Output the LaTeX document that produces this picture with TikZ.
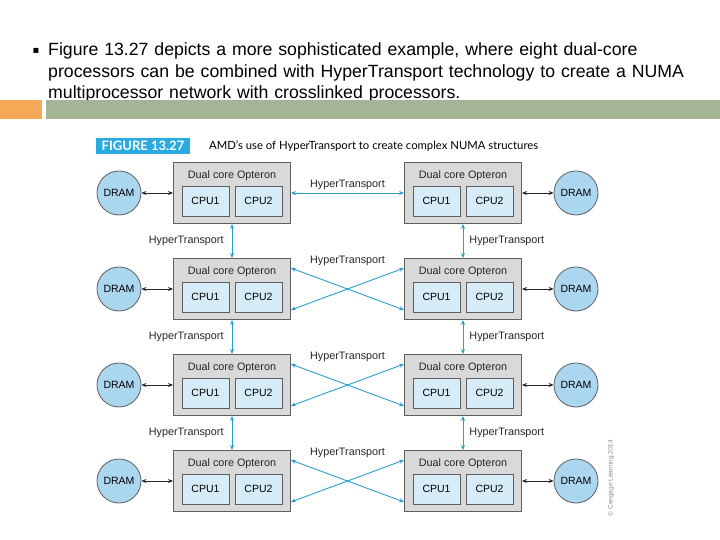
\documentclass[tikz,border=0pt]{standalone}
\usepackage{fontspec}
\setmainfont{Liberation Sans}
\newfontfamily\capfont{Lato}
\newfontfamily\symfont{DejaVu Sans}
\usetikzlibrary{arrows.meta, positioning, calc}
\definecolor{barorange}{RGB}{245,168,86}
\definecolor{bargreen}{RGB}{164,180,148}
\definecolor{figblue}{RGB}{41,170,225}
\definecolor{htblue}{RGB}{40,160,205}
\definecolor{boxgray}{RGB}{217,217,217}
\definecolor{edgegray}{RGB}{95,95,95}
\definecolor{cpublue}{RGB}{214,236,248}
\definecolor{dramblue}{RGB}{170,214,240}

\begin{document}
\begin{tikzpicture}[x=1pt, y=-1pt,
  chip/.style={rectangle, draw=edgegray, fill=boxgray, line width=0.9pt,
              minimum width=117pt, minimum height=61pt, inner sep=0pt},
  cpu/.style={rectangle, draw=edgegray, fill=cpublue, line width=0.8pt,
              minimum width=47pt, minimum height=30pt, inner sep=0pt, font=\fontsize{10.5}{12}\selectfont},
  dram/.style={circle, draw=edgegray, fill=dramblue, line width=0.8pt,
              minimum size=44pt, inner sep=0pt, font=\fontsize{10.5}{12}\selectfont},
  lbl/.style={inner sep=0pt, text=black!85, font=\fontsize{10.8}{12}\selectfont},
  memlink/.style={{Stealth[length=5pt,width=4pt]}-{Stealth[length=5pt,width=4pt]}, line width=0.8pt, black!85},
  htlink/.style={{Stealth[length=5pt,width=4pt]}-{Stealth[length=5pt,width=4pt]}, line width=0.9pt, htblue}
]
\fill[white] (0,0) rectangle (720,540);
\useasboundingbox (0,0) rectangle (720,540);

% slide header
\node[font=\symfont\fontsize{10}{10}\selectfont] (bullet) at (36,51) {▪};
\node[anchor=base west, inner sep=0pt, text width=680pt, align=left,
      font=\fontsize{17.7}{21.5}\selectfont] (intro) at (48,56)
  {Figure 13.27 depicts a more sophisticated example, where eight dual-core\\
   processors can be combined with HyperTransport technology to create a NUMA\\
   multiprocessor network with crosslinked processors.};
\fill[barorange] (0,100) rectangle (42,119);
\fill[bargreen] (46,100) rectangle (720,119);

% figure caption
\node[fill=figblue, text=white, font=\capfont\bfseries\fontsize{13}{15}\selectfont,
      minimum width=94pt, minimum height=16pt, inner sep=0pt] (figlabel) at (143,146) {FIGURE 13.27};
\node[anchor=west, inner sep=0pt, font=\capfont\fontsize{11.3}{13}\selectfont] (figcap) at (209,146)
  {AMD’s use of HyperTransport to create complex NUMA structures};

% processors and memories
\foreach \i/\y in {1/193, 2/289, 3/385, 4/481} {
  \node[chip] (l\i) at (232,\y) {};
  \node[chip] (r\i) at (463,\y) {};
  \node[lbl] (lt\i) at ([yshift=-14pt]l\i.north) {Dual core Opteron};
  \node[lbl] (rt\i) at ([yshift=-14pt]r\i.north) {Dual core Opteron};
  \node[cpu] (lcpua\i) at ([xshift=-26.5pt,yshift=-8pt]l\i.center) {CPU1};
  \node[cpu] (lcpub\i) at ([xshift=26.5pt,yshift=-8pt]l\i.center) {CPU2};
  \node[cpu] (rcpua\i) at ([xshift=-26.5pt,yshift=-8pt]r\i.center) {CPU1};
  \node[cpu] (rcpub\i) at ([xshift=26.5pt,yshift=-8pt]r\i.center) {CPU2};
  \node[dram] (ld\i) at (119,\y) {DRAM};
  \node[dram] (rd\i) at (576,\y) {DRAM};
  \draw[memlink] (ld\i)--(l\i);
  \draw[memlink] (r\i)--(rd\i);
}

% HyperTransport links
\foreach \i/\j in {1/2, 2/3, 3/4} {
  \draw[htlink] (l\i)--node[lbl, left=8pt] (lv\i) {HyperTransport} (l\j);
  \draw[htlink] (r\i)--node[lbl, right=6pt] (rv\i) {HyperTransport} (r\j);
}
\draw[htlink] (l1)--node[lbl, above=3pt] (hx1) {HyperTransport} (r1);
\foreach \i in {2,3,4} {
  \draw[htlink] ([yshift=-10pt]l\i.north east)--([yshift=10pt]r\i.south west);
  \draw[htlink] ([yshift=10pt]l\i.south east)--([yshift=-10pt]r\i.north west);
  \node[lbl] (hx\i) at ($(l\i.north east)!0.5!(r\i.north west)+(0,3)$) {HyperTransport};
}

\node[rotate=90, font=\fontsize{6.5}{7}\selectfont, text=black!45] (copyright) at (611,478)
  {\textcopyright{} Cengage Learning 2014};
\end{tikzpicture}
\end{document}
